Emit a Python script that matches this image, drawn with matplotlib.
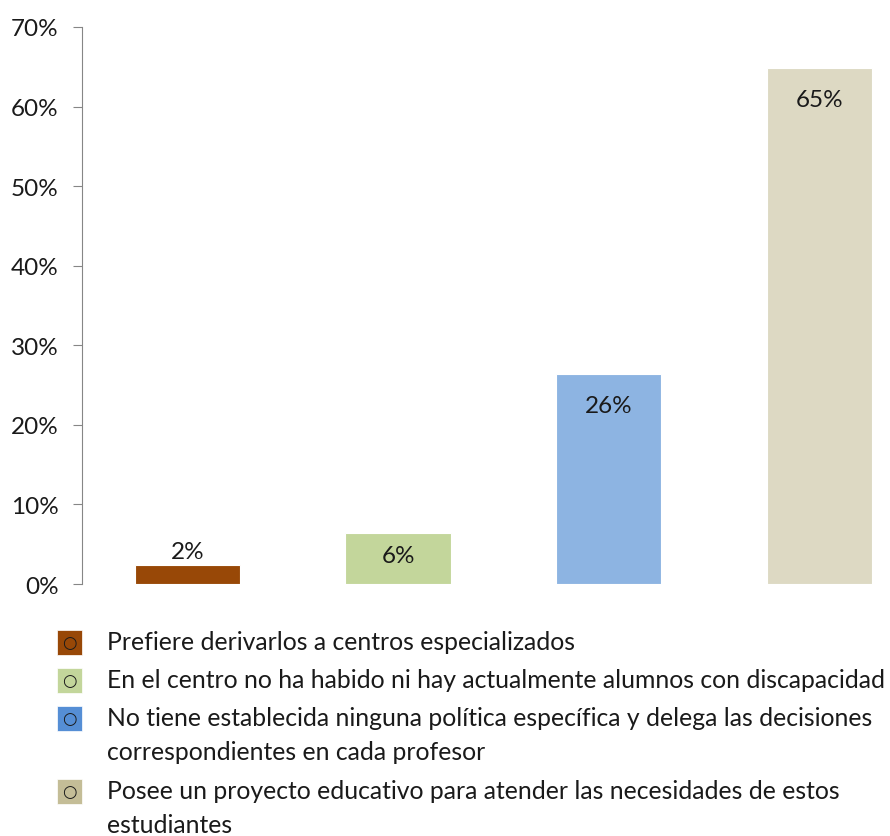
import matplotlib
matplotlib.use("Agg")
import matplotlib.pyplot as plt
from matplotlib.patches import Rectangle

plt.rcParams['font.family'] = ['Lato', 'DejaVu Sans']

# data
categories = [
    "Prefiere derivarlos a centros especializados",
    "En el centro no ha habido ni hay actualmente alumnos con discapacidad",
    "No tiene establecida ninguna política específica y delega las decisiones\ncorrespondientes en cada profesor",
    "Posee un proyecto educativo para atender las necesidades de estos\nestudiantes",
]
values = [2.4, 6.4, 26.4, 64.9]
value_labels = ["2%", "6%", "26%", "65%"]
yticks = [0, 10, 20, 30, 40, 50, 60, 70]

bar_colors = ["#984807", "#C3D69B", "#8DB4E2", "#DDD9C3"]
legend_colors = ["#984807", "#C3D69B", "#558ED5", "#C4BD97"]
label_offsets = [13, -22, -32, -32]  # px relative to bar top

W, H = 890, 837
fig = plt.figure(figsize=(W / 100, H / 100), dpi=100)
ax = fig.add_axes([82 / W, 1 - 585 / H, 1 - 82 / W, (585 - 28) / H])

x = list(range(len(values)))
bars = ax.bar(x, values, width=0.5, color=bar_colors, edgecolor="white", linewidth=0.8)

for b, lab, off in zip(bars, value_labels, label_offsets):
    ax.annotate(lab, (b.get_x() + b.get_width() / 2, b.get_height()),
                xytext=(0, off * 0.72), textcoords="offset points",
                ha="center", va="center", fontsize=17.5, color="#1a1a1a")

ax.set_xlim(-0.5, 3.335)
ax.set_ylim(0, 70)
ax.set_yticks(yticks)
ax.set_yticklabels([f"{t}%" for t in yticks], fontsize=17.5, color="#1a1a1a")
ax.set_xticks([])
for s in ["top", "right", "bottom"]:
    ax.spines[s].set_visible(False)
ax.spines["left"].set_color("#868686")
ax.tick_params(axis="y", length=6.5, color="#868686", pad=10.5)

# legend drawn by hand (baselines in px)
baselines = [650, 688, 726, 799]
for cat, col, bl in zip(categories, legend_colors, baselines):
    mc = bl - 7
    fig.patches.append(Rectangle((57 / W, 1 - (mc + 12.5) / H), 25 / W, 25 / H,
                                 transform=fig.transFigure, facecolor=col,
                                 edgecolor="white", linewidth=0.5))
    fig.text(69.5 / W, 1 - mc / H, "○", ha="center", va="center",
             fontsize=12, color="#1a1a1a", family=["DejaVu Sans"])
    for i, line in enumerate(cat.split("\n")):
        fig.text(107 / W, 1 - (bl + 34 * i) / H, line, ha="left", va="baseline",
                 fontsize=17.8, color="#1a1a1a")

fig.savefig("out.png", dpi=100)
